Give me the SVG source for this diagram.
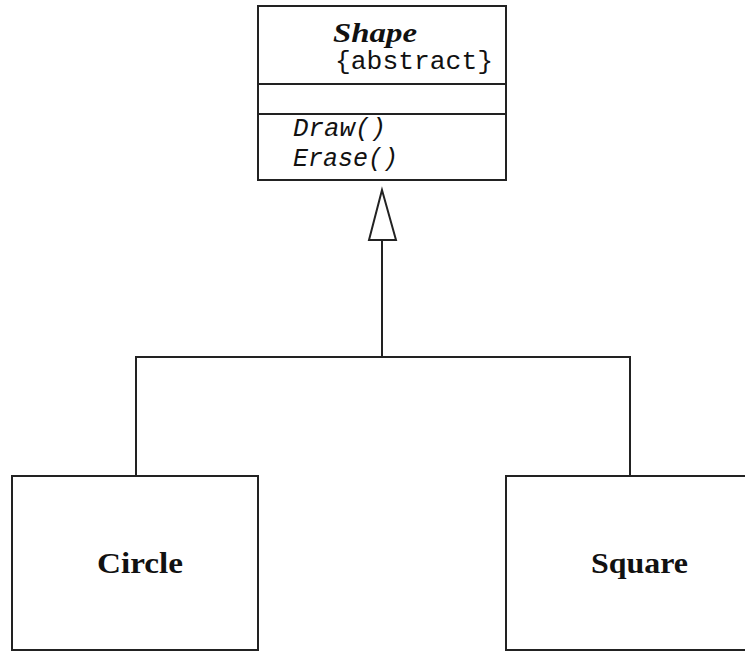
<svg xmlns="http://www.w3.org/2000/svg" width="745" height="651" viewBox="0 0 745 651">
  <style>
    .box { fill: #fff; stroke: #222; stroke-width: 2; }
    .line { fill: none; stroke: #222; stroke-width: 2; }
    .title { font-family: "Liberation Serif", "Times New Roman", serif; font-weight: bold; fill: #111; }
    .mono { font-family: "Liberation Mono", "Courier New", monospace; fill: #111; }
  </style>
  <rect width="745" height="651" fill="#fff"/>
  <g id="connectors">
    <polyline class="line" points="382,240 382,357"/>
    <polyline class="line" points="136,476 136,357 630,357 630,476"/>
    <polygon class="line" points="382,190 369,240 396,240" fill="#fff" style="fill:#fff"/>
  </g>
  <g id="shape">
    <rect class="box" x="258" y="6" width="248" height="174"/>
    <line class="line" x1="258" y1="84" x2="506" y2="84"/>
    <line class="line" x1="258" y1="114" x2="506" y2="114"/>
    <text class="title" x="333" y="42" font-size="27" font-style="italic" textLength="84" lengthAdjust="spacingAndGlyphs">Shape</text>
    <text class="mono" x="335" y="69" font-size="26" textLength="158" lengthAdjust="spacingAndGlyphs">{abstract}</text>
    <text class="mono" x="293" y="136" font-size="25" font-style="italic" textLength="93" lengthAdjust="spacingAndGlyphs">Draw()</text>
    <text class="mono" x="293" y="166" font-size="25" font-style="italic" textLength="105" lengthAdjust="spacingAndGlyphs">Erase()</text>
  </g>
  <g id="circle">
    <rect class="box" x="12" y="476" width="246" height="174"/>
    <text class="title" x="97" y="573" font-size="30" textLength="86" lengthAdjust="spacingAndGlyphs">Circle</text>
  </g>
  <g id="square">
    <rect class="box" x="506" y="476" width="250" height="174"/>
    <text class="title" x="591" y="573" font-size="30" textLength="97" lengthAdjust="spacingAndGlyphs">Square</text>
  </g>
</svg>
